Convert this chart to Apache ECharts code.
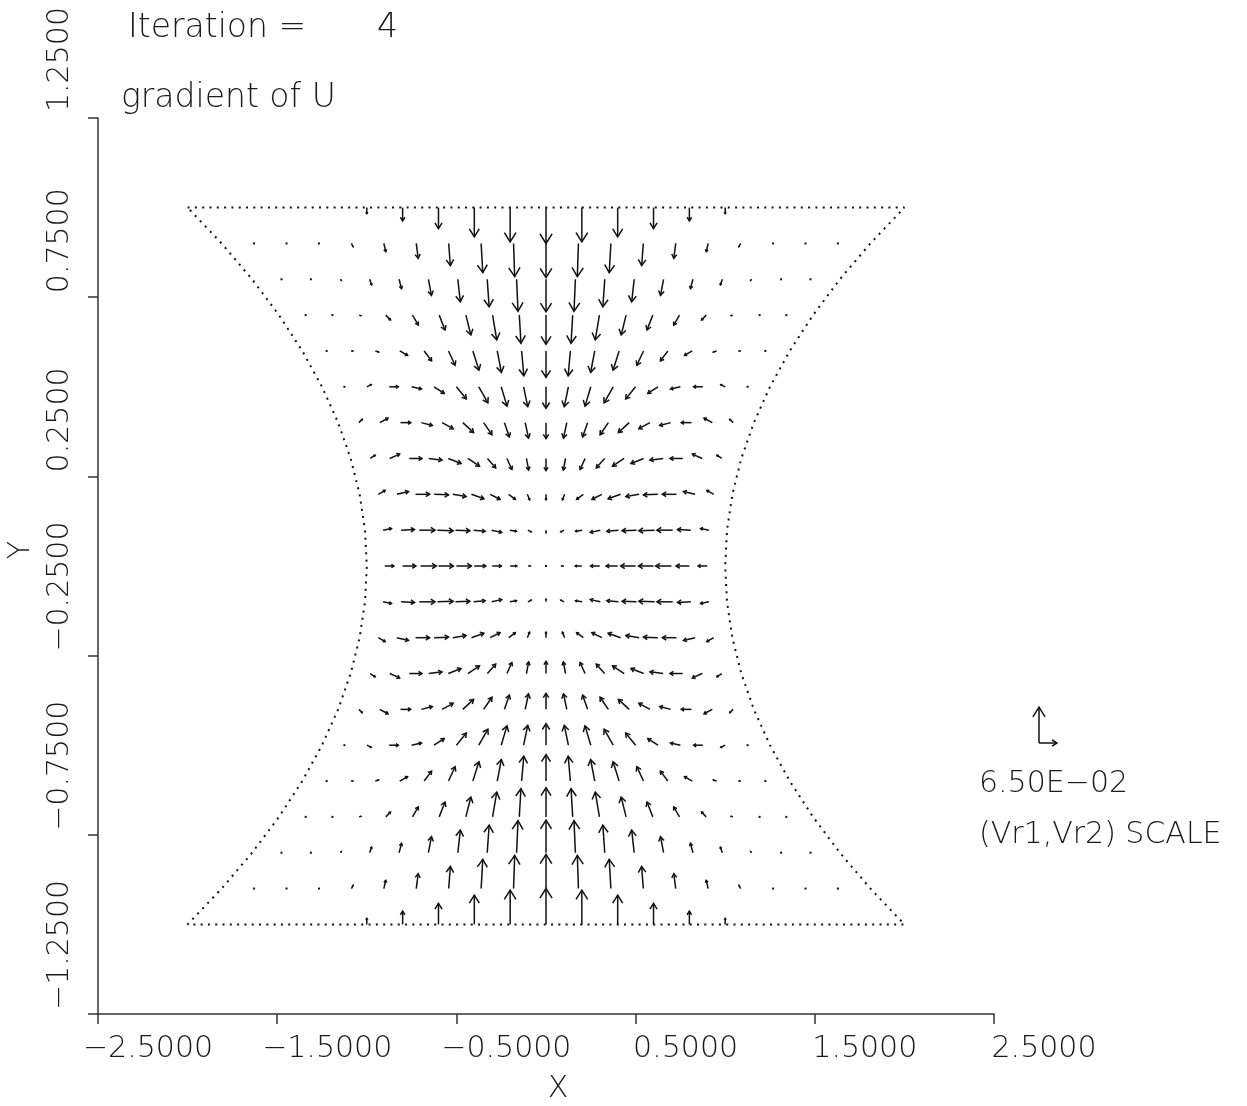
<!DOCTYPE html>
<html><head><meta charset="utf-8">
<script src="https://cdn.jsdelivr.net/npm/echarts@6/dist/echarts.min.js"></script>
<style>html,body{margin:0;padding:0;background:#fff}#c{width:1247px;height:1106px}</style>
</head><body><div id="c"></div>
<script>
// ---------------- data ----------------
const TITLE_LINE1 = 'Iteration =';
const ITERATION = '4';
const TITLE_LINE2 = 'gradient of U';
const X_NAME = 'X';
const Y_NAME = 'Y';
const X_TICKS = [-2.5, -1.5, -0.5, 0.5, 1.5, 2.5];
const Y_TICKS = [-1.25, -0.75, -0.25, 0.25, 0.75, 1.25];
const SCALE_VALUE = 0.065;
const SCALE_TEXT = '6.50E\u221202';
const SCALE_LABEL = '(Vr1,Vr2) SCALE';

// mesh rows (y) and the half width of the region on each row
const Y_ROWS = [1.0, 0.9, 0.8, 0.7, 0.6, 0.5, 0.4, 0.3, 0.2, 0.1, 0.0,
                -0.1, -0.2, -0.3, -0.4, -0.5, -0.6, -0.7, -0.8, -0.9, -1.0];
const HALF_WIDTH = [2.00, 1.81, 1.64, 1.49, 1.36, 1.25, 1.16, 1.09, 1.04, 1.01, 1.00,
                    1.01, 1.04, 1.09, 1.16, 1.25, 1.36, 1.49, 1.64, 1.81, 2.00];

// Vr1 (x component) per row, 21 nodes from left edge to right edge
const VR1 = [
 [0,0,0,0,0,0,0,0,0,0,0,0,0,0,0,0,0,0,0,0,0],
 [0,0,0,0,0.006,0.007,0.007,0.006,0.006,0.004,0,-0.004,-0.006,-0.006,-0.007,-0.007,-0.006,0,0,0,0],
 [0,0,0,0.004,0.007,0.009,0.011,0.009,0.007,0.005,0,-0.005,-0.007,-0.009,-0.011,-0.009,-0.007,-0.004,0,0,0],
 [0,0,0,0.007,0.017,0.021,0.021,0.018,0.015,0.006,0,-0.006,-0.015,-0.018,-0.021,-0.021,-0.017,-0.007,0,0,0],
 [0,0,0.007,0.012,0.028,0.027,0.024,0.022,0.015,0.008,0,-0.008,-0.015,-0.022,-0.024,-0.027,-0.028,-0.012,-0.007,0,0],
 [0,0.004,0.016,0.033,0.036,0.037,0.036,0.033,0.021,0.015,0,-0.015,-0.021,-0.033,-0.036,-0.037,-0.036,-0.033,-0.016,-0.004,0],
 [0,0.012,0.030,0.037,0.040,0.040,0.039,0.030,0.018,0.012,0,-0.012,-0.018,-0.030,-0.039,-0.040,-0.040,-0.037,-0.030,-0.012,0],
 [0,0.018,0.036,0.046,0.048,0.046,0.042,0.030,0.018,0.008,0,-0.008,-0.018,-0.030,-0.042,-0.046,-0.048,-0.046,-0.036,-0.018,0],
 [0,0.025,0.042,0.051,0.052,0.048,0.045,0.036,0.024,0.008,0,-0.008,-0.024,-0.036,-0.045,-0.048,-0.052,-0.051,-0.042,-0.025,0],
 [0,0.030,0.048,0.057,0.057,0.052,0.042,0.036,0.024,0.012,0,-0.012,-0.024,-0.036,-0.042,-0.052,-0.057,-0.057,-0.048,-0.030,0],
 [0,0.033,0.048,0.057,0.054,0.054,0.042,0.033,0.024,0.008,0,-0.008,-0.024,-0.033,-0.042,-0.054,-0.054,-0.057,-0.048,-0.033,0],
 [0,0.030,0.048,0.057,0.057,0.052,0.042,0.036,0.024,0.012,0,-0.012,-0.024,-0.036,-0.042,-0.052,-0.057,-0.057,-0.048,-0.030,0],
 [0,0.025,0.042,0.051,0.052,0.048,0.045,0.036,0.024,0.008,0,-0.008,-0.024,-0.036,-0.045,-0.048,-0.052,-0.051,-0.042,-0.025,0],
 [0,0.018,0.036,0.046,0.048,0.046,0.042,0.030,0.018,0.008,0,-0.008,-0.018,-0.030,-0.042,-0.046,-0.048,-0.046,-0.036,-0.018,0],
 [0,0.012,0.030,0.037,0.040,0.040,0.039,0.030,0.018,0.012,0,-0.012,-0.018,-0.030,-0.039,-0.040,-0.040,-0.037,-0.030,-0.012,0],
 [0,0.004,0.016,0.033,0.036,0.037,0.036,0.033,0.021,0.015,0,-0.015,-0.021,-0.033,-0.036,-0.037,-0.036,-0.033,-0.016,-0.004,0],
 [0,0,0.007,0.012,0.028,0.027,0.024,0.022,0.015,0.008,0,-0.008,-0.015,-0.022,-0.024,-0.027,-0.028,-0.012,-0.007,0,0],
 [0,0,0,0.007,0.017,0.021,0.021,0.018,0.015,0.006,0,-0.006,-0.015,-0.018,-0.021,-0.021,-0.017,-0.007,0,0,0],
 [0,0,0,0.004,0.007,0.009,0.011,0.009,0.007,0.005,0,-0.005,-0.007,-0.009,-0.011,-0.009,-0.007,-0.004,0,0,0],
 [0,0,0,0,0.006,0.007,0.007,0.006,0.006,0.004,0,-0.004,-0.006,-0.006,-0.007,-0.007,-0.006,0,0,0,0],
 [0,0,0,0,0,0,0,0,0,0,0,0,0,0,0,0,0,0,0,0,0]
];

// Vr2 (y component) per row
const VR2 = [
 [0,0,0,0,0,-0.011,-0.024,-0.038,-0.053,-0.062,-0.065,-0.062,-0.053,-0.038,-0.024,-0.011,0,0,0,0,0],
 [0,0,0,0,-0.006,-0.015,-0.027,-0.040,-0.053,-0.060,-0.062,-0.060,-0.053,-0.040,-0.027,-0.015,-0.006,0,0,0,0],
 [0,0,0,-0.002,-0.010,-0.017,-0.029,-0.041,-0.050,-0.058,-0.059,-0.058,-0.050,-0.041,-0.029,-0.017,-0.010,-0.002,0,0,0],
 [0,0,0,-0.001,-0.009,-0.018,-0.027,-0.036,-0.045,-0.051,-0.053,-0.051,-0.045,-0.036,-0.027,-0.018,-0.009,-0.001,0,0,0],
 [0,0,0,-0.002,-0.008,-0.018,-0.026,-0.035,-0.039,-0.045,-0.048,-0.045,-0.039,-0.035,-0.026,-0.018,-0.008,-0.002,0,0,0],
 [0,0.001,0.004,0,-0.004,-0.012,-0.022,-0.029,-0.035,-0.036,-0.039,-0.036,-0.035,-0.029,-0.022,-0.012,-0.004,0,0.004,0.001,0],
 [0,0.006,0.008,0,-0.005,-0.011,-0.018,-0.022,-0.026,-0.028,-0.029,-0.028,-0.026,-0.022,-0.018,-0.011,-0.005,0,0.008,0.006,0],
 [0,0.006,0.008,0,-0.003,-0.009,-0.014,-0.017,-0.020,-0.021,-0.022,-0.021,-0.020,-0.017,-0.014,-0.009,-0.003,0,0.008,0.006,0],
 [0,0.007,0.005,0,-0.001,-0.004,-0.008,-0.009,-0.009,-0.010,-0.010,-0.010,-0.009,-0.009,-0.008,-0.004,-0.001,0,0.005,0.007,0],
 [0,0.003,0.001,0,-0.001,-0.001,-0.002,-0.004,-0.002,-0.003,-0.005,-0.003,-0.002,-0.004,-0.002,-0.001,-0.001,0,0.001,0.003,0],
 [0,0,0,0,0,0,0,0,0,0,0,0,0,0,0,0,0,0,0,0,0],
 [0,-0.003,-0.001,0,0.001,0.001,0.002,0.004,0.002,0.003,0.005,0.003,0.002,0.004,0.002,0.001,0.001,0,-0.001,-0.003,0],
 [0,-0.007,-0.005,0,0.001,0.004,0.008,0.009,0.009,0.010,0.010,0.010,0.009,0.009,0.008,0.004,0.001,0,-0.005,-0.007,0],
 [0,-0.006,-0.008,0,0.003,0.009,0.014,0.017,0.020,0.021,0.022,0.021,0.020,0.017,0.014,0.009,0.003,0,-0.008,-0.006,0],
 [0,-0.006,-0.008,0,0.005,0.011,0.018,0.022,0.026,0.028,0.029,0.028,0.026,0.022,0.018,0.011,0.005,0,-0.008,-0.006,0],
 [0,-0.001,-0.004,0,0.004,0.012,0.022,0.029,0.035,0.036,0.039,0.036,0.035,0.029,0.022,0.012,0.004,0,-0.004,-0.001,0],
 [0,0,0,0.002,0.008,0.018,0.026,0.035,0.039,0.045,0.048,0.045,0.039,0.035,0.026,0.018,0.008,0.002,0,0,0],
 [0,0,0,0.001,0.009,0.018,0.027,0.036,0.045,0.051,0.053,0.051,0.045,0.036,0.027,0.018,0.009,0.001,0,0,0],
 [0,0,0,0.002,0.010,0.017,0.029,0.041,0.050,0.058,0.059,0.058,0.050,0.041,0.029,0.017,0.010,0.002,0,0,0],
 [0,0,0,0,0.006,0.015,0.027,0.040,0.053,0.060,0.062,0.060,0.053,0.040,0.027,0.015,0.006,0,0,0,0],
 [0,0,0,0,0,0.011,0.024,0.038,0.053,0.062,0.065,0.062,0.053,0.038,0.024,0.011,0,0,0,0,0]
];

// ---------------- build ----------------
const ARROW_SCALE = 1.54;          // plot units per unit of (Vr1,Vr2)
const INK = '#111';
const FONT = "'DejaVu Sans', sans-serif";
const NODES = 21;

const arrowData = [];
Y_ROWS.forEach((y, j) => {
  const edgeRow = (j === 0 || j === Y_ROWS.length - 1) ? 1 : 0;
  for (let i = 0; i < NODES; i++) {
    const x = HALF_WIDTH[j] * (i - (NODES - 1) / 2) / ((NODES - 1) / 2);
    const edge = (edgeRow || i === 0 || i === NODES - 1) ? 1 : 0;
    arrowData.push([x, y, VR1[j][i], VR2[j][i], edge]);
  }
});

const boundary = [];
const last = Y_ROWS.length - 1;
boundary.push([-HALF_WIDTH[0], Y_ROWS[0]]);
for (let j = 0; j <= last; j++) boundary.push([HALF_WIDTH[j], Y_ROWS[j]]);
for (let j = last; j >= 0; j--) boundary.push([-HALF_WIDTH[j], Y_ROWS[j]]);

function arrowShapes(p0, p1, style) {
  const dx = p1[0] - p0[0], dy = p1[1] - p0[1];
  const L = Math.hypot(dx, dy);
  const ux = dx / L, uy = dy / L;
  const hl = 0.27 * L, hw = 0.17 * L;
  const bx = p1[0] - ux * hl, by = p1[1] - uy * hl;
  return [
    {type: 'line', shape: {x1: p0[0], y1: p0[1], x2: p1[0], y2: p1[1]}, style},
    {type: 'polyline', shape: {points: [[bx - uy * hw, by + ux * hw], [p1[0], p1[1]], [bx + uy * hw, by - ux * hw]]}, style}
  ];
}

function fmt(v) {
  return (v < 0 ? '\u2212' : '') + Math.abs(v).toFixed(4);
}

const chart = echarts.init(document.getElementById('c'), null, {renderer: 'canvas'});
const labelStyle = {fontFamily: FONT, fontSize: 30, fontWeight: 200, color: '#1a1a1a'};

chart.setOption({
  backgroundColor: '#fff',
  animation: false,
  grid: {left: 98, top: 118, width: 896, height: 896, containLabel: false, outerBoundsMode: 'none'},
  xAxis: {
    type: 'value', min: -2.5, max: 2.5,
    name: X_NAME, nameLocation: 'middle', nameGap: 60,
    nameTextStyle: Object.assign({}, labelStyle, {padding: [0, 0, 0, 24]}),
    axisLine: {show: true, onZero: false, lineStyle: {color: '#333', width: 1.5}},
    axisTick: {show: true, inside: false, length: 10, customValues: X_TICKS, lineStyle: {color: '#333', width: 1.5}},
    axisLabel: Object.assign({}, labelStyle, {
      customValues: X_TICKS, formatter: fmt, margin: 20,
      align: 'center', padding: [0, 0, 0, 100]
    }),
    splitLine: {show: false}
  },
  yAxis: {
    type: 'value', min: -1.25, max: 1.25,
    name: Y_NAME, nameLocation: 'middle', nameGap: 62, nameRotate: 90,
    nameTextStyle: Object.assign({}, labelStyle, {padding: [0, 0, 0, 32]}),
    axisLine: {show: true, onZero: false, lineStyle: {color: '#333', width: 1.5}},
    axisTick: {show: true, inside: false, length: 10, customValues: Y_TICKS, lineStyle: {color: '#333', width: 1.5}},
    axisLabel: Object.assign({}, labelStyle, {
      customValues: Y_TICKS, rotate: 90, margin: 38,
      align: 'left', verticalAlign: 'middle', padding: [0, 0, 0, 4],
      formatter: v => (v === Y_TICKS[Y_TICKS.length - 1] ? '{s|' + fmt(v) + '}' : fmt(v)),
      rich: {s: Object.assign({}, labelStyle, {padding: [0, 0, 0, 2]})}
    }),
    splitLine: {show: false}
  },
  series: [
    {
      type: 'line', data: boundary, symbol: 'none', silent: true, z: 1,
      lineStyle: {color: '#111', width: 2, type: [2, 5.3], cap: 'butt'}
    },
    {
      type: 'custom', data: arrowData, z: 2, silent: true, clip: false,
      encode: {x: 0, y: 1},
      renderItem: function (params, api) {
        const x = api.value(0), y = api.value(1), u = api.value(2), v = api.value(3), edge = api.value(4);
        const p0 = api.coord([x, y]);
        const p1 = api.coord([x + u * ARROW_SCALE, y + v * ARROW_SCALE]);
        const L = Math.hypot(p1[0] - p0[0], p1[1] - p0[1]);
        if (L < 1.5) {
          if (edge) return null;
          return {type: 'rect', shape: {x: p0[0] - 1, y: p0[1] - 1, width: 2, height: 2}, style: {fill: '#111'}};
        }
        return {type: 'group', children: arrowShapes(p0, p1, {stroke: INK, lineWidth: 1.5, fill: null})};
      }
    }
  ]
});

// scale key, lengths taken from the axes
const o = chart.convertToPixel({gridIndex: 0}, [0, 0]);
const ex = chart.convertToPixel({gridIndex: 0}, [SCALE_VALUE * ARROW_SCALE, SCALE_VALUE * ARROW_SCALE]);
const lx = ex[0] - o[0], ly = o[1] - ex[1];
const kx = 1039, ky = 743;
const keyStyle = {stroke: INK, lineWidth: 1.5, fill: null};
const titleFont = '200 33px ' + FONT;
chart.setOption({
  graphic: [
    {type: 'text', left: 128, top: 12, style: {text: TITLE_LINE1, font: titleFont, fill: '#1a1a1a'}},
    {type: 'text', left: 377, top: 12, style: {text: ITERATION, font: titleFont, fill: '#1a1a1a'}},
    {type: 'text', left: 121, top: 82, style: {text: TITLE_LINE2, font: titleFont, fill: '#1a1a1a'}},
    {type: 'group', children: arrowShapes([kx, ky], [kx, ky - ly], keyStyle).concat(arrowShapes([kx, ky], [kx + lx, ky], keyStyle))},
    {type: 'text', left: 979, top: 769, style: {text: SCALE_TEXT, font: '200 30px ' + FONT, fill: '#1a1a1a'}},
    {type: 'text', left: 979, top: 820, style: {text: SCALE_LABEL, font: '200 30px ' + FONT, fill: '#1a1a1a'}}
  ]
});
</script></body></html>
